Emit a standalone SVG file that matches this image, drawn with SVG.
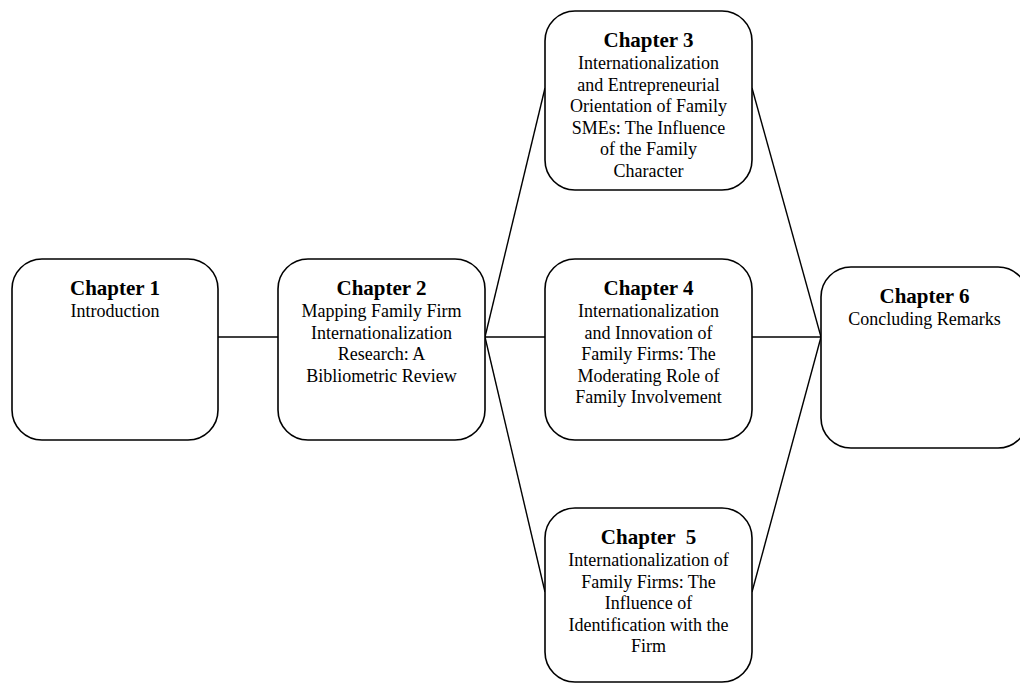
<svg xmlns="http://www.w3.org/2000/svg" width="1020" height="684" viewBox="0 0 1020 684">
  <style>
    .box { fill: #ffffff; stroke: #000000; stroke-width: 1.6; }
    .wire { fill: none; stroke: #000000; stroke-width: 1.4; }
    .title { font-family: "Liberation Serif", "Times New Roman", serif; font-size: 21px; font-weight: bold; fill: #000000; text-anchor: middle; }
    .body { font-family: "Liberation Serif", "Times New Roman", serif; font-size: 18px; fill: #000000; text-anchor: middle; }
  </style>
  <rect width="1020" height="684" fill="#ffffff"/>

  <!-- connectors -->
  <g id="connectors">
    <line class="wire" x1="218" y1="337" x2="278" y2="337"/>
    <line class="wire" x1="485" y1="337" x2="545" y2="88"/>
    <line class="wire" x1="485" y1="337" x2="545" y2="337"/>
    <line class="wire" x1="485" y1="337" x2="545" y2="592"/>
    <line class="wire" x1="752" y1="88" x2="821" y2="337"/>
    <line class="wire" x1="752" y1="337" x2="821" y2="337"/>
    <line class="wire" x1="752" y1="592" x2="821" y2="337"/>
  </g>

  <g id="chapter1">
    <rect class="box" x="12" y="259" width="206" height="181" rx="30" ry="30"/>
    <text class="title" x="115" y="295">Chapter 1</text>
    <text class="body" x="115" y="317">Introduction</text>
  </g>

  <g id="chapter2">
    <rect class="box" x="278" y="259" width="207" height="181" rx="30" ry="30"/>
    <text class="title" x="381.5" y="295">Chapter 2</text>
    <text class="body" x="381.5" y="317">Mapping Family Firm</text>
    <text class="body" x="381.5" y="338.5">Internationalization</text>
    <text class="body" x="381.5" y="360">Research: A</text>
    <text class="body" x="381.5" y="381.5">Bibliometric Review</text>
  </g>

  <g id="chapter3">
    <rect class="box" x="545" y="11" width="207" height="179" rx="30" ry="30"/>
    <text class="title" x="648.5" y="47">Chapter 3</text>
    <text class="body" x="648.5" y="69">Internationalization</text>
    <text class="body" x="648.5" y="90.5">and Entrepreneurial</text>
    <text class="body" x="648.5" y="112">Orientation of Family</text>
    <text class="body" x="648.5" y="133.5">SMEs: The Influence</text>
    <text class="body" x="648.5" y="155">of the Family</text>
    <text class="body" x="648.5" y="176.5">Character</text>
  </g>

  <g id="chapter4">
    <rect class="box" x="545" y="259" width="207" height="181" rx="30" ry="30"/>
    <text class="title" x="648.5" y="295">Chapter 4</text>
    <text class="body" x="648.5" y="317">Internationalization</text>
    <text class="body" x="648.5" y="338.5">and Innovation of</text>
    <text class="body" x="648.5" y="360">Family Firms: The</text>
    <text class="body" x="648.5" y="381.5">Moderating Role of</text>
    <text class="body" x="648.5" y="403">Family Involvement</text>
  </g>

  <g id="chapter5">
    <rect class="box" x="545" y="508" width="207" height="174" rx="30" ry="30"/>
    <text class="title" x="648.5" y="544" xml:space="preserve">Chapter  5</text>
    <text class="body" x="648.5" y="566">Internationalization of</text>
    <text class="body" x="648.5" y="587.5">Family Firms: The</text>
    <text class="body" x="648.5" y="609">Influence of</text>
    <text class="body" x="648.5" y="630.5">Identification with the</text>
    <text class="body" x="648.5" y="652">Firm</text>
  </g>

  <g id="chapter6">
    <rect class="box" x="821" y="267" width="207" height="181" rx="30" ry="30"/>
    <text class="title" x="924.5" y="303">Chapter 6</text>
    <text class="body" x="924.5" y="325">Concluding Remarks</text>
  </g>
</svg>
